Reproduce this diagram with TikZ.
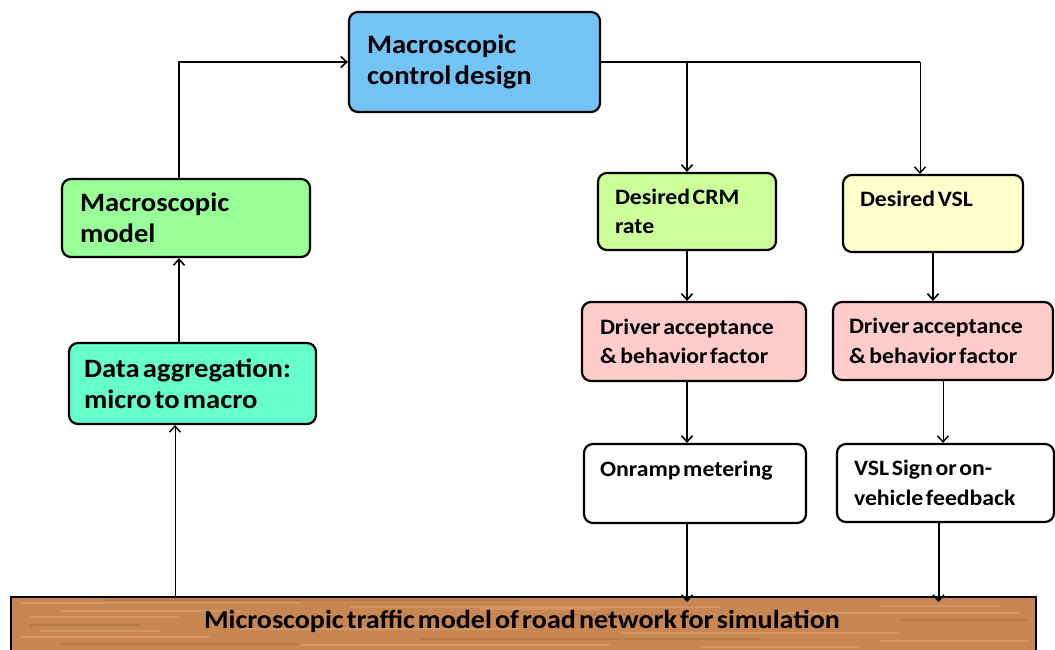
\documentclass[tikz,border=0pt]{standalone}
\usepackage{fontspec}
\setmainfont{Carlito}[FakeStretch=1.08]
\usetikzlibrary{arrows.meta}

\definecolor{ctrlblue}{RGB}{116,195,245}
\definecolor{modelgreen}{RGB}{153,255,153}
\definecolor{aggaqua}{RGB}{102,255,204}
\definecolor{crmgreen}{RGB}{204,255,153}
\definecolor{vslyellow}{RGB}{255,255,204}
\definecolor{driverpink}{RGB}{255,204,204}
\definecolor{wood}{RGB}{200,135,82}
\definecolor{woodlight}{RGB}{210,150,100}
\definecolor{wooddark}{RGB}{188,124,74}

% bold labels with tight word spacing
\newcommand\bigboxfont{\bfseries\fontsize{26.5}{31}\selectfont}
\newcommand\smallboxfont{\bfseries\fontsize{22}{29.5}\selectfont}
\newcommand\simfont{\bfseries\fontsize{26}{30}\selectfont}
\newcommand\tightspaces{\spaceskip 0.12em\relax}

\tikzset{
  box/.style={draw=black, line width=2.2pt, rounded corners=9pt, align=left,
    inner xsep=0pt, inner ysep=0pt, execute at begin node=\tightspaces},
  bigtext/.style={font=\bigboxfont},
  smalltext/.style={font=\smallboxfont},
  arr/.style={line width=2pt, -{Straight Barb[length=6pt,width=11pt,line width=1.6pt]}},
  thinarr/.style={line width=1pt, -{Straight Barb[length=6pt,width=11pt,line width=1.4pt]}},
}

\begin{document}
\begin{tikzpicture}[x=1pt,y=-1pt]
\useasboundingbox (0,0) rectangle (1055,650);

% control design and the left feedback column
\node[box, bigtext, fill=ctrlblue, minimum width=251pt, minimum height=100pt, text width=215pt]
  (ctrl) at (474.5,62) {Macroscopic\\control design};
\node[box, bigtext, fill=modelgreen, minimum width=248pt, minimum height=78pt, text width=212pt]
  (model) at (186,218) {Macroscopic\\model};
\node[box, bigtext, fill=aggaqua, minimum width=247pt, minimum height=81pt, text width=217pt]
  (agg) at (192.5,383.5) {Data aggregation:\\micro to macro};

% ramp metering branch
\node[box, smalltext, fill=crmgreen, minimum width=178pt, minimum height=77pt, text width=144pt]
  (crm) at (687,211.5) {Desired CRM\\rate};
\node[box, smalltext, fill=driverpink, minimum width=224pt, minimum height=79pt, text width=188pt]
  (da1) at (694,341.5) {Driver acceptance\\\&\,behavior factor};
\node[box, smalltext, fill=white, minimum width=222pt, minimum height=79pt, text width=190pt]
  (onr) at (695,483.5) {Onramp metering\\\mbox{}};

% variable speed limit branch
\node[box, smalltext, fill=vslyellow, minimum width=180pt, minimum height=77pt, text width=146pt]
  (vsl) at (933,213.5) {Desired VSL\\\mbox{}};
\node[box, smalltext, fill=driverpink, minimum width=220pt, minimum height=78pt, text width=188pt]
  (da2) at (943,341) {Driver acceptance\\\&\,behavior factor};
\node[box, smalltext, fill=white, minimum width=217pt, minimum height=78pt, text width=183pt]
  (sign) at (945.5,483) {VSL Sign or on-\\vehicle feedback};

% simulation bar with a wood grain
\node[draw=black, line width=2pt, fill=wood, minimum width=1025pt, minimum height=64pt,
  anchor=north west, inner sep=0pt] (sim) at (10,596) {};
\begin{scope}
  \clip (11,597) rectangle (1034,650);
  \foreach \yy/\xa/\xb in {603/20/300, 607/350/720, 611/60/240, 613/780/1020, 617/30/180,
      629/240/520, 633/620/900, 637/20/210, 641/880/1030, 645/300/610, 606/880/1000,
      631/40/160, 647/700/860, 609/480/600}
    \draw[woodlight, line width=1.5pt] (\xa,\yy) -- (\xb,\yy);
  \foreach \yy/\xa/\xb in {600/100/520, 620/900/1030, 625/30/140, 639/420/760, 644/60/300, 615/560/700}
    \draw[wooddark, line width=1.2pt] (\xa,\yy) -- (\xb,\yy);
\end{scope}
\node[font=\simfont, inner sep=0pt, execute at begin node=\tightspaces] (simtext) at (522,621)
  {Microscopic traffic model of road network for simulation};

% vertical routing lines
\coordinate (lx) at (179,0);
\coordinate (fx) at (175,0);
\coordinate (vx) at (920,0);

% left column, bottom to top
\draw[thinarr] (sim.north -| fx) -- (agg.south -| fx);
\draw[arr] (agg.north -| lx) -- (model.south -| lx);
\draw[arr] (model.north -| lx) |- (ctrl.west);

% control design fanning out to both branches
\draw[line width=2pt] (ctrl.east) -- (ctrl.east -| vx);
\draw[arr] (ctrl.east -| crm.north) -- (crm.north);
\draw[thinarr] (ctrl.east -| vx) -- (vsl.north -| vx);

% down each branch into the simulation
\draw[arr] (crm.south) -- (da1.north -| crm.south);
\draw[arr] (da1.south -| crm.south) -- (onr.north -| crm.south);
\draw[arr] (onr.south -| crm.south) -- ([yshift=-6pt]sim.north -| crm.south);
\draw[arr] (vsl.south -| da2.north) ++(-10,0) coordinate (v1) -- (da2.north -| v1);
\draw[thinarr] (da2.south) -- (sign.north -| da2.south);
\draw[arr] ([xshift=-7pt]sign.south) coordinate (v2) -- ([yshift=-6pt]sim.north -| v2);
\end{tikzpicture}
\end{document}
